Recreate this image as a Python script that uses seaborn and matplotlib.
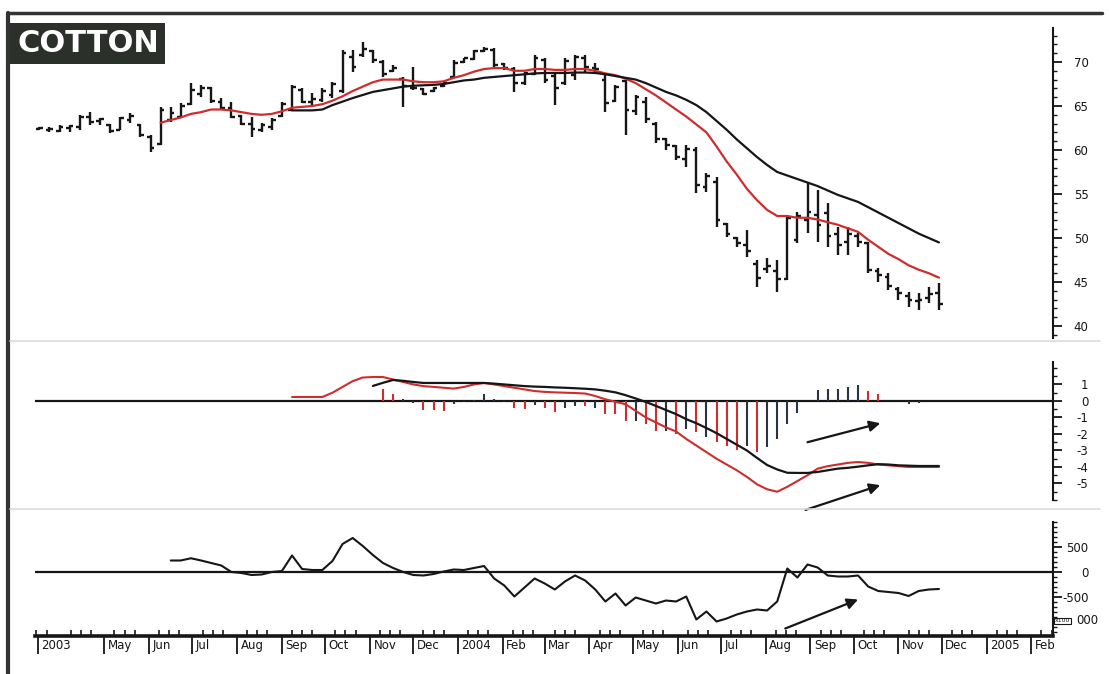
import numpy as np
import pandas as pd
import matplotlib
matplotlib.use("Agg")
import matplotlib.pyplot as plt
import matplotlib.dates as mdates
from matplotlib.lines import Line2D
from matplotlib.patches import Rectangle
from matplotlib.transforms import ScaledTranslation
from matplotlib.ticker import MultipleLocator
import seaborn as sns

# weekly cotton bars, Mar 2003 - Nov 2004
weeks = pd.date_range("2003-03-17", periods=90, freq="7D")

bar_open = [62.4, 62.3, 62.2, 62.5, 62.6, 63.8, 63.3, 62.8, 62.3, 63.4,
            62.8, 61.5, 60.7, 63.4, 63.8, 65.2, 66.4, 67.0, 65.5, 64.8,
            63.9, 63.0, 62.3, 62.6, 63.9, 64.6, 66.8, 65.4, 65.7, 66.2,
            66.7, 70.6, 70.8, 71.2, 70.0, 69.0, 68.1, 67.0, 66.9, 66.7,
            67.3, 68.3, 70.0, 70.3, 71.2, 71.4, 69.8, 69.2, 67.6, 68.6,
            70.2, 68.4, 67.6, 68.5, 70.5, 69.3, 68.0, 65.6, 67.8, 64.4,
            65.4, 62.9, 61.2, 60.4, 59.0, 60.0, 55.8, 56.4, 51.6, 50.0,
            49.2, 47.0, 46.5, 46.2, 45.3, 49.8, 52.0, 52.6, 52.8, 50.4,
            49.5, 50.2, 49.4, 46.3, 45.6, 44.2, 43.4, 42.9, 43.2, 43.8]
bar_high = [62.6, 62.6, 62.8, 62.8, 64.0, 64.3, 63.6, 63.0, 63.8, 64.2,
            63.0, 61.7, 64.9, 64.9, 65.3, 67.6, 67.4, 67.2, 65.9, 65.5,
            64.0, 63.8, 63.1, 63.6, 65.5, 67.4, 67.0, 66.5, 67.0, 67.7,
            71.4, 71.4, 72.3, 71.4, 70.2, 69.7, 68.3, 69.4, 67.0, 67.2,
            67.7, 70.2, 70.5, 71.4, 71.7, 71.6, 69.9, 69.4, 68.9, 70.8,
            70.4, 68.7, 70.4, 70.8, 70.8, 69.9, 68.7, 67.4, 68.0, 66.3,
            66.0, 63.2, 61.4, 60.6, 60.6, 60.3, 57.4, 56.9, 51.7, 50.1,
            50.9, 47.5, 47.7, 47.5, 52.6, 53.0, 56.3, 55.5, 54.0, 51.3,
            51.3, 50.6, 49.5, 46.6, 46.0, 44.4, 43.9, 43.7, 44.4, 44.9]
bar_low = [62.3, 62.0, 62.0, 62.0, 62.3, 62.8, 62.8, 61.9, 62.3, 63.1,
           61.5, 59.8, 60.6, 63.2, 63.6, 65.1, 66.0, 65.3, 64.5, 63.6,
           62.8, 61.5, 62.0, 62.3, 63.8, 64.5, 65.3, 65.1, 65.5, 65.9,
           66.5, 68.9, 70.6, 69.9, 68.3, 68.9, 64.9, 66.8, 66.2, 66.6,
           67.2, 68.2, 69.9, 70.2, 71.1, 69.4, 69.1, 66.6, 67.4, 68.5,
           67.6, 65.1, 67.4, 68.0, 68.9, 68.9, 64.3, 65.5, 61.7, 64.0,
           63.1, 60.8, 60.0, 58.9, 58.1, 55.1, 55.2, 51.2, 50.1, 49.0,
           47.8, 44.4, 46.0, 43.9, 45.2, 49.4, 50.6, 49.5, 49.0, 48.1,
           48.1, 49.0, 46.0, 45.0, 44.1, 43.0, 42.2, 41.8, 42.6, 41.8]
bar_close = [62.5, 62.4, 62.6, 62.7, 63.8, 63.2, 63.5, 62.2, 63.6, 63.9,
             61.7, 60.2, 64.6, 64.2, 65.0, 66.8, 67.0, 65.6, 64.8, 63.8,
             63.0, 62.4, 62.8, 63.4, 65.2, 67.2, 65.5, 65.8, 66.7, 67.5,
             71.0, 69.4, 71.5, 70.2, 68.6, 69.3, 67.3, 67.0, 66.4, 67.0,
             67.6, 69.9, 70.4, 71.2, 71.5, 69.6, 69.3, 67.6, 68.7, 70.5,
             68.0, 67.0, 70.1, 70.6, 69.4, 69.2, 65.3, 67.2, 64.6, 66.0,
             63.5, 61.3, 60.6, 59.2, 60.1, 56.0, 57.0, 52.0, 50.4, 49.4,
             48.5, 45.5, 46.8, 45.3, 52.3, 52.5, 53.0, 51.5, 50.2, 49.2,
             50.4, 49.5, 46.4, 45.8, 44.6, 43.7, 43.0, 43.0, 43.6, 42.5]

# moving averages (red starts at week 12, black at week 25)
ma_fast = [63.1, 63.4, 63.7, 64.1, 64.3, 64.6, 64.6, 64.5,
           64.3, 64.1, 64.0, 64.1, 64.4, 64.8, 64.9, 65.0, 65.2, 65.6,
           66.1, 66.7, 67.2, 67.7, 68.0, 68.0, 68.0, 67.8, 67.7, 67.7,
           67.8, 68.2, 68.5, 68.9, 69.2, 69.3, 69.3, 69.0, 69.0, 69.2,
           69.2, 69.1, 69.1, 69.2, 69.2, 69.0, 68.7, 68.5, 68.1, 67.6,
           66.9, 66.2, 65.4, 64.6, 63.8, 62.9, 62.0, 60.4, 58.7, 57.2,
           55.6, 54.3, 53.2, 52.5, 52.5, 52.3, 52.3, 52.1, 51.8, 51.5,
           51.1, 50.7, 49.8, 49.0, 48.2, 47.6, 46.9, 46.4, 46.0, 45.5]
ma_slow = [64.5, 64.5, 64.5, 64.6, 65.1,
           65.5, 65.9, 66.25, 66.6, 66.8, 67.0, 67.2, 67.3, 67.35, 67.4,
           67.5, 67.7, 67.9, 68.0, 68.2, 68.3, 68.4, 68.5, 68.6, 68.7,
           68.75, 68.75, 68.75, 68.8, 68.8, 68.75, 68.6, 68.4, 68.2, 68.0,
           67.6, 67.1, 66.6, 66.2, 65.7, 65.1, 64.3, 63.3, 62.3, 61.2,
           60.2, 59.2, 58.3, 57.5, 57.1, 56.7, 56.3, 55.9, 55.4, 54.9,
           54.5, 54.1, 53.5, 52.9, 52.3, 51.7, 51.1, 50.5, 50.0, 49.5]

# MACD panel (red from week 25, black from week 33, histogram weeks 34-87)
macd_red = [0.24, 0.24, 0.24, 0.24, 0.5,
            0.85, 1.2, 1.42, 1.45, 1.45, 1.3, 1.15, 1.0, 0.9, 0.85,
            0.8, 0.75, 0.85, 1.0, 1.09, 1.0, 0.9, 0.8, 0.7, 0.6,
            0.55, 0.52, 0.5, 0.48, 0.45, 0.3, 0.1, -0.05, -0.2, -0.6,
            -1.0, -1.3, -1.6, -1.85, -2.3, -2.7, -3.1, -3.5, -3.85, -4.2,
            -4.6, -5.05, -5.35, -5.5, -5.2, -4.85, -4.5, -4.1, -3.95, -3.85,
            -3.75, -3.7, -3.75, -3.85, -3.9, -3.95, -4.0, -4.0, -4.0, -4.0]
macd_black = [0.91, 1.1, 1.27, 1.22, 1.15, 1.09, 1.09,
              1.09, 1.09, 1.09, 1.09, 1.09, 1.05, 1.0, 0.95, 0.9, 0.87,
              0.85, 0.82, 0.8, 0.77, 0.74, 0.7, 0.62, 0.52, 0.35, 0.15,
              -0.06, -0.3, -0.55, -0.8, -1.1, -1.35, -1.64, -1.95, -2.3, -2.65,
              -3.0, -3.45, -3.88, -4.15, -4.35, -4.36, -4.36, -4.3, -4.2, -4.1,
              -4.05, -3.98, -3.9, -3.83, -3.85, -3.9, -3.92, -3.94, -3.94, -3.94]
hist_vals = [0.7, 0.45, 0.1, -0.1, -0.55, -0.55,
             -0.6, -0.2, -0.05, 0.05, 0.4, 0.1, -0.05, -0.4, -0.5, -0.25,
             -0.4, -0.65, -0.4, -0.3, -0.3, -0.4, -0.8, -0.8, -1.2, -1.2,
             -1.4, -1.8, -1.8, -2.0, -1.7, -1.9, -2.2, -2.5, -2.7, -3.0,
             -2.7, -3.1, -2.8, -2.3, -1.4, -0.7, 0.0, 0.65, 0.75, 0.75,
             0.85, 0.95, 0.6, 0.4, 0.0, 0.0, -0.2, -0.1]
hist_kind = list("rrkkrr" "rkkkkkkrrk" "rrkkrkrrrk" "rrkrkrkrrr"
                 "krkkkkkkkk" "kkrrkkkk")

# bottom oscillator, from week 13
osc_vals = [230, 230, 275, 230, 180, 130, 0,
            -20, -60, -50, 0, 20, 330, 60, 40, 40, 220,
            560, 680, 520, 340, 180, 80, 0, -60, -70, -40,
            10, 50, 40, 80, 120, -130, -270, -490, -310, -130,
            -230, -350, -190, -70, -170, -350, -590, -430, -670, -510,
            -570, -630, -570, -590, -490, -950, -790, -990, -930, -850,
            -790, -750, -770, -590, 70, -110, 150, 90, -70, -90,
            -90, -70, -290, -380, -400, -420, -480, -380, -350, -340]

tick_dates = ["2003-03-16", "2003-05-01", "2003-06-01", "2003-07-01", "2003-08-01",
              "2003-09-01", "2003-10-01", "2003-11-01", "2003-12-01", "2004-01-01",
              "2004-02-01", "2004-03-01", "2004-04-01", "2004-05-01", "2004-06-01",
              "2004-07-01", "2004-08-01", "2004-09-01", "2004-10-01", "2004-11-01",
              "2004-12-01", "2005-01-01", "2005-02-01"]
tick_labels = ["2003", "May", "Jun", "Jul", "Aug", "Sep", "Oct", "Nov", "Dec", "2004",
               "Feb", "Mar", "Apr", "May", "Jun", "Jul", "Aug", "Sep", "Oct", "Nov",
               "Dec", "2005", "Feb"]

RED = "#cf2d2d"
INK = "#161616"
NAVY = "#2a3246"

sns.set_theme(style="white")
plt.rcParams["font.family"] = ["DejaVu Sans"]

W, H = 1109, 674
fig = plt.figure(figsize=(W / 100, H / 100), dpi=100)


def box(top, bottom, left=35, right=1053):
    return [left / W, 1 - bottom / H, (right - left) / W, (bottom - top) / H]


ax1 = fig.add_axes(box(28, 338))
ax2 = fig.add_axes(box(362, 500), sharex=ax1)
ax3 = fig.add_axes(box(522, 636), sharex=ax1)

x = mdates.date2num(weeks)
x0 = x[0]


def wk(i):
    return x0 + 7 * i


# price bars
ax1.vlines(x, bar_low, bar_high, color=INK, lw=1.7)
ax1.hlines(bar_open, x - 2.6, x, color=INK, lw=1.7)
ax1.hlines(bar_close, x, x + 2.6, color=INK, lw=1.7)
sns.lineplot(x=x[12:], y=ma_fast, ax=ax1, color=RED, lw=1.6)
sns.lineplot(x=x[25:], y=ma_slow, ax=ax1, color=INK, lw=1.6)
ax1.set_ylim(38.64, 73.86)

# MACD
ax2.axhline(0, color=INK, lw=1.6, zorder=1)
hx = x[34:34 + len(hist_vals)]
ax2.vlines(hx, 0, hist_vals, colors=[RED if k == "r" else NAVY for k in hist_kind], lw=1.5)
sns.lineplot(x=x[25:], y=macd_red, ax=ax2, color=RED, lw=1.5)
sns.lineplot(x=x[33:], y=macd_black, ax=ax2, color=INK, lw=1.6)
ax2.set_ylim(-6.0, 2.36)

# oscillator
ax3.axhline(0, color=INK, lw=1.6, zorder=1)
sns.lineplot(x=x[13:], y=osc_vals, ax=ax3, color=INK, lw=1.5)
ax3.set_ylim(-1280, 1000)

arrow = dict(arrowstyle="-|>", color=INK, lw=1.6, mutation_scale=16, shrinkA=0, shrinkB=0)
ax2.annotate("", xy=(wk(83.2), -1.35), xytext=(wk(76), -2.5), arrowprops=arrow)
ax2.annotate("", xy=(wk(83.2), -5.1), xytext=(wk(75.8), -6.6), arrowprops=arrow)
ax3.annotate("", xy=(wk(81), -550), xytext=(wk(73.8), -1130), arrowprops=arrow)

ax1.set_xlim(mdates.date2num(pd.Timestamp("2003-03-14")),
             mdates.date2num(pd.Timestamp("2005-02-16")))

for ax in (ax1, ax2, ax3):
    ax.set_xlabel("")
    ax.set_ylabel("")
    ax.set_facecolor("none")
    for side in ("left", "top", "bottom"):
        ax.spines[side].set_visible(False)
    ax.spines["right"].set_color(INK)
    ax.spines["right"].set_linewidth(1.5)
    ax.yaxis.tick_right()
    ax.tick_params(axis="y", which="major", direction="out", length=6.5, width=1.3,
                   pad=19, labelsize=8.5, colors=INK)
    ax.tick_params(axis="y", which="minor", direction="out", length=3, width=1.0,
                   right=True, colors=INK)

ax1.set_yticks([70, 65, 60, 55, 50, 45, 40], ["70", "65", "60", "55", "50", "45", "40"], ha="right")
ax1.yaxis.set_minor_locator(MultipleLocator(1))
ax2.set_yticks([1, 0, -1, -2, -3, -4, -5], ["1", "0", "-1", "-2", "-3", "-4", "-5"], ha="right")
ax2.yaxis.set_minor_locator(MultipleLocator(0.5))
# the -1000 tick reads "x100 | 000" in the original, drawn below as two texts
ax3.set_yticks([500, 0, -500, -1000], ["500", "0", "-500", ""], ha="right")
ax3.yaxis.set_minor_locator(MultipleLocator(100))

# time axis
ax3.spines["bottom"].set_visible(True)
ax3.spines["bottom"].set_color(INK)
ax3.spines["bottom"].set_linewidth(2.6)
ax3.set_xticks(mdates.date2num(pd.to_datetime(tick_dates)), tick_labels, ha="left")
ax3.xaxis.set_minor_locator(mdates.DayLocator(bymonthday=[8, 15, 22]))
ax3.tick_params(axis="x", which="major", direction="out", length=13, width=1.3,
                pad=-11, labelsize=8.5, colors=INK, bottom=True)
ax3.tick_params(axis="x", which="minor", direction="in", length=4, width=1.2,
                bottom=True, colors=INK)
shift = ScaledTranslation(2.5 / 72, 0, fig.dpi_scale_trans)
for lbl in ax3.get_xticklabels():
    lbl.set_transform(lbl.get_transform() + shift)
for ax in (ax1, ax2):
    ax.tick_params(axis="x", which="both", bottom=False, labelbottom=False)

# scale box on the bottom axis
fig.text(1055 / W, 1 - 621 / H, "x100", fontsize=4.5, color=INK, ha="left", va="center",
         bbox=dict(boxstyle="square,pad=0.15", facecolor="white", edgecolor=INK, lw=0.8))
fig.text(1076 / W, 1 - 621 / H, "000", fontsize=8.5, color=INK, ha="left", va="center")

# title block and frame
fig.patches.append(Rectangle((10 / W, 1 - 64 / H), 155 / W, 41 / H, transform=fig.transFigure,
                             facecolor="#2b302b", edgecolor="none"))
fig.text(88 / W, 1 - 44 / H, "COTTON", color="white", fontsize=22, fontweight="bold",
         ha="center", va="center")
fig.add_artist(Line2D([8 / W, 1102 / W], [1 - 13 / H] * 2, color="#333333", lw=2.5))
fig.add_artist(Line2D([8 / W, 8 / W], [1 - 13 / H, 0], color="#333333", lw=3))
fig.add_artist(Line2D([10 / W, 1100 / W], [1 - 341 / H] * 2, color="#dcdcdc", lw=1.2))
fig.add_artist(Line2D([10 / W, 1100 / W], [1 - 509 / H] * 2, color="#dcdcdc", lw=1.2))

fig.savefig("out.png", dpi=100, facecolor="white")
